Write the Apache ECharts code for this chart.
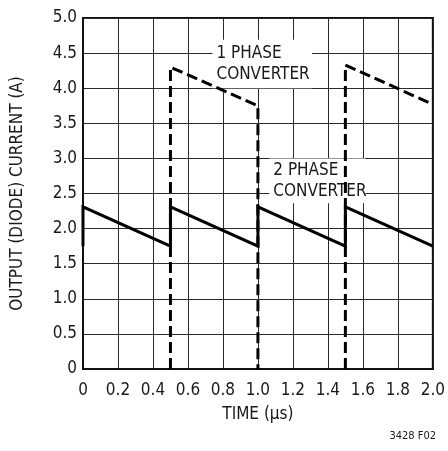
<!DOCTYPE html>
<html>
<head>
<meta charset="utf-8">
<script src="https://cdn.jsdelivr.net/npm/echarts@6/dist/echarts.min.js"></script>
<style>
html,body{margin:0;padding:0;background:#fff;}
#c{width:448px;height:451px;}
</style>
</head>
<body>
<div id="c"></div>
<script>
// ---- data ----
var xTicks = [0, 0.2, 0.4, 0.6, 0.8, 1.0, 1.2, 1.4, 1.6, 1.8, 2.0];
var yTicks = [0, 0.5, 1.0, 1.5, 2.0, 2.5, 3.0, 3.5, 4.0, 4.5, 5.0];
// 1 phase converter (dashed), '-' breaks the line
var onePhaseTime    = [0.5, 0.5, 1.0, 1.0, 1.25, 1.5, 1.5, 2.0];
var onePhaseCurrent = [0,   4.30, 3.75, 0,  '-',  0,  4.33, 3.77];
// 2 phase converter (solid)
var twoPhaseTime    = [0,    0,    0.5,  0.5,  1.0,  1.0,  1.5,  1.5,  2.0];
var twoPhaseCurrent = [1.75, 2.31, 1.75, 2.31, 1.75, 2.31, 1.75, 2.31, 1.75];

var FONT = '"Liberation Sans Narrow","DejaVu Sans Condensed","Liberation Sans",sans-serif';
var TXT = '#1a1a1a';
var FS = 17;

function pairs(xs, ys){ return xs.map(function(x,i){ return [x, ys[i]]; }); }
function fmt(v){ return v === 0 ? '0' : v.toFixed(1); }

var chart = echarts.init(document.getElementById('c'), null, {renderer:'canvas'});
chart.setOption({
  animation: false,
  backgroundColor: '#fff',
  grid: {left: 83, right: 13, top: 18, bottom: 82, show: true, borderColor: '#111', borderWidth: 2, backgroundColor: 'transparent'},
  xAxis: {
    type: 'value', min: xTicks[0], max: xTicks[xTicks.length-1], interval: 0.2,
    name: 'TIME (\u03BCs)', nameLocation: 'middle', nameGap: 37,
    nameTextStyle: {fontFamily: FONT, fontSize: FS, color: TXT},
    axisLine: {show: true, lineStyle: {color: '#111', width: 2}},
    axisTick: {show: false},
    axisLabel: {fontFamily: FONT, fontSize: FS, color: TXT, margin: 13, formatter: fmt},
    splitLine: {show: true, lineStyle: {color: '#2a2a2a', width: 1}}
  },
  yAxis: {
    type: 'value', min: yTicks[0], max: yTicks[yTicks.length-1], interval: 0.5,
    name: 'OUTPUT (DIODE) CURRENT (A)', nameLocation: 'middle', nameGap: 57,
    nameTextStyle: {fontFamily: FONT, fontSize: FS, color: TXT},
    axisLine: {show: true, lineStyle: {color: '#111', width: 2}},
    axisTick: {show: false},
    axisLabel: {fontFamily: FONT, fontSize: FS, color: TXT, margin: 6, formatter: fmt},
    splitLine: {show: true, lineStyle: {color: '#2a2a2a', width: 1}}
  },
  series: [
    {type: 'line', name: '1 PHASE CONVERTER', data: pairs(onePhaseTime, onePhaseCurrent),
     showSymbol: false, symbol: 'none', connectNulls: false, z: 3,
     lineStyle: {color: '#000', width: 3, type: [11, 5], cap: 'butt', join: 'miter'}},
    {type: 'line', name: '2 PHASE CONVERTER', data: pairs(twoPhaseTime, twoPhaseCurrent),
     showSymbol: false, symbol: 'none', z: 4,
     lineStyle: {color: '#000', width: 3, type: 'solid', cap: 'butt', join: 'miter'}}
  ]
});

function px(x, y){ return chart.convertToPixel({gridIndex: 0}, [x, y]); }
function labelBox(x0, y0, x1, y1, lines, firstOffset){
  var a = px(x0, y0), b = px(x1, y1);
  var els = [{type: 'rect', z: 1, shape: {x: a[0], y: a[1], width: b[0]-a[0], height: b[1]-a[1]}, style: {fill: '#fff'}}];
  lines.forEach(function(t, i){
    els.push({type: 'text', z: 2, x: a[0] + 4, y: a[1] + firstOffset + 21*i,
      style: {text: t, font: FS + 'px ' + FONT, fill: TXT, textVerticalAlign: 'middle', verticalAlign: 'middle'}});
  });
  return els;
}
var g = [];
g = g.concat(labelBox(0.74, 4.69, 1.31, 4.0, ['1 PHASE', 'CONVERTER'], 14));
g = g.concat(labelBox(1.065, 3.0, 1.615, 2.36, ['2 PHASE', 'CONVERTER'], 12));
g.push({type: 'text', right: 12, top: 431, style: {text: '3428 F02', font: '11px ' + FONT, fill: TXT}});
chart.setOption({graphic: g});
</script>
</body>
</html>
